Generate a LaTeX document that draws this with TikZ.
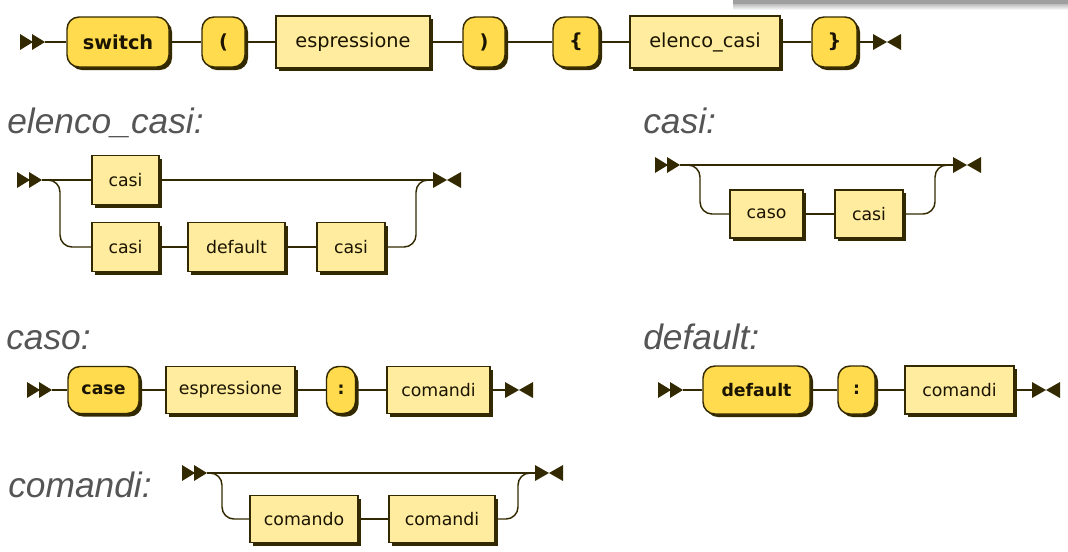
\documentclass[tikz,border=0pt]{standalone}
\usepackage{fontspec}
\newfontfamily\boxfont{DejaVu Sans}
\newfontfamily\titlefont{Liberation Sans}
\usetikzlibrary{shadows}
\definecolor{linec}{HTML}{332900}
\definecolor{tfill}{HTML}{FFDB4D}
\definecolor{ntfill}{HTML}{FFEC9E}
\definecolor{titlec}{HTML}{555555}
\definecolor{textc}{HTML}{1A1400}
\tikzset{
  rrbox/.style={draw=linec, line width=1.1pt, inner sep=0pt, text=textc,
    general shadow={fill=linec, shadow xshift=2.25pt, shadow yshift=-2.25pt}},
  nterm/.style={rrbox, fill=ntfill},
  term/.style={rrbox, fill=tfill, rounded corners=9pt},
  wh/.style 2 args={minimum width=#1*0.75pt, minimum height=#2*0.75pt},
  conn/.style={draw=linec, line width=1.1pt},
  rc/.style={conn, rounded corners=9pt},
  title/.style={anchor=base west, inner sep=0pt, text=titlec,
    font=\titlefont\itshape\fontsize{26.5}{30}\selectfont},
  big/.style={font=\boxfont\fontsize{14.5}{17}\selectfont},
  small/.style={font=\boxfont\fontsize{13}{15}\selectfont},
}
\newcommand{\rrbeg}[1]{\fill[linec] (#1) ++(-25,-8) -- ++(13,8) -- ++(-13,8) -- cycle
  (#1) ++(-13,-8) -- ++(13,8) -- ++(-13,8) -- cycle;}
\newcommand{\rrfin}[1]{\fill[linec] (#1) ++(0,-8) -- ++(14,8) -- ++(-14,8) -- cycle
  (#1) ++(28,-8) -- ++(-14,8) -- ++(14,8) -- cycle;}
\begin{document}
\begin{tikzpicture}[x=0.75pt, y=-0.75pt]
\useasboundingbox (0,0) rectangle (1068,551);
% window edge at the top right
\shade[top color=gray!60, bottom color=white] (733,3) rectangle (1068,10);
\fill[gray!75] (733,0) rectangle (1068,3.5);

% ---------- switch ----------
\coordinate (t0) at (45,42);
\node[term,big,wh={102}{50}] (sw) at (118,42) {\textbf{switch}};
\node[term,big,wh={43}{50}] (lp) at (223.5,42) {\textbf{(}};
\node[nterm,big,wh={154}{52}] (e1) at (353,42) {espressione};
\node[term,big,wh={42}{50}] (rp) at (484,42) {\textbf{)}};
\node[term,big,wh={46}{50}] (lb) at (576,42) {\textbf{\{}};
\node[nterm,big,wh={150}{52}] (el) at (705,42) {elenco\_casi};
\node[term,big,wh={45}{50}] (rb) at (834.5,42) {\textbf{\}}};
\coordinate (t1) at (873,42);
\draw[conn] (t0) -- (sw) -- (lp) -- (e1) -- (rp) -- (lb) -- (el) -- (rb) -- (t1);
\rrbeg{t0}
\rrfin{t1}

% ---------- elenco_casi ----------
\node[title] (tel) at (7,133) {elenco\_casi:};
\coordinate (a0) at (42,180);
\coordinate (a1) at (433,180);
\coordinate (aL) at (60,247);
\coordinate (aR) at (416,180);
\node[nterm,small,wh={67}{49}] (c1) at (125.5,180) {casi};
\node[nterm,small,wh={67}{49}] (c2) at (125.5,247) {casi};
\node[nterm,small,wh={97}{49}] (d1) at (236.5,247) {default};
\node[nterm,small,wh={68}{49}] (c3) at (351,247) {casi};
\draw[conn] (a0) -- (c1) -- (a1);
\draw[rc] (a0) -| (aL) -- (c2.west);
\draw[conn] (c2) -- (d1) -- (c3);
\draw[rc] (c3.east) -| (aR) -- (a1);
\rrbeg{a0}
\rrfin{a1}

% ---------- casi ----------
\node[title] (tca) at (643,133) {casi:};
\coordinate (b0) at (680,165);
\coordinate (b1) at (953,165);
\coordinate (bL) at (700,214);
\coordinate (bR) at (935,165);
\node[nterm,small,wh={73}{48}] (k1) at (766.5,214) {caso};
\node[nterm,small,wh={68}{48}] (k2) at (869,214) {casi};
\draw[conn] (b0) -- (b1);
\draw[rc] (b0) -| (bL) -- (k1.west);
\draw[conn] (k1) -- (k2);
\draw[rc] (k2.east) -| (bR) -- (b1);
\rrbeg{b0}
\rrfin{b1}

% ---------- caso ----------
\node[title] (tcs) at (6,349) {caso:};
\coordinate (p0) at (52,390);
\node[term,small,wh={71}{47}] (cs) at (103.5,390) {\textbf{case}};
\node[nterm,small,wh={129}{47}] (e2) at (230.5,390) {espressione};
\node[term,small,wh={29}{47}] (co1) at (341,390) {\textbf{:}};
\node[nterm,small,wh={103}{47}] (cm1) at (438.5,390) {comandi};
\coordinate (p1) at (505,390);
\draw[conn] (p0) -- (cs) -- (e2) -- (co1) -- (cm1) -- (p1);
\rrbeg{p0}
\rrfin{p1}

% ---------- default ----------
\node[title] (tdf) at (643,349) {default:};
\coordinate (q0) at (683,390);
\node[term,small,wh={107}{48}] (df) at (756.5,390) {\textbf{default}};
\node[term,small,wh={37}{48}] (co2) at (856.5,390) {\textbf{:}};
\node[nterm,small,wh={109}{48}] (cm2) at (959.5,390) {comandi};
\coordinate (q1) at (1032,390);
\draw[conn] (q0) -- (df) -- (co2) -- (cm2) -- (q1);
\rrbeg{q0}
\rrfin{q1}

% ---------- comandi ----------
\node[title] (tcm) at (8,497) {comandi:};
\coordinate (m0) at (207,473);
\coordinate (m1) at (535,473);
\coordinate (mL) at (222,519);
\coordinate (mR) at (518,473);
\node[nterm,small,wh={108}{47}] (cd) at (304,519) {comando};
\node[nterm,small,wh={106}{47}] (cm3) at (442,519) {comandi};
\draw[conn] (m0) -- (m1);
\draw[rc] (m0) -| (mL) -- (cd.west);
\draw[conn] (cd) -- (cm3);
\draw[rc] (cm3.east) -| (mR) -- (m1);
\rrbeg{m0}
\rrfin{m1}
\end{tikzpicture}
\end{document}
